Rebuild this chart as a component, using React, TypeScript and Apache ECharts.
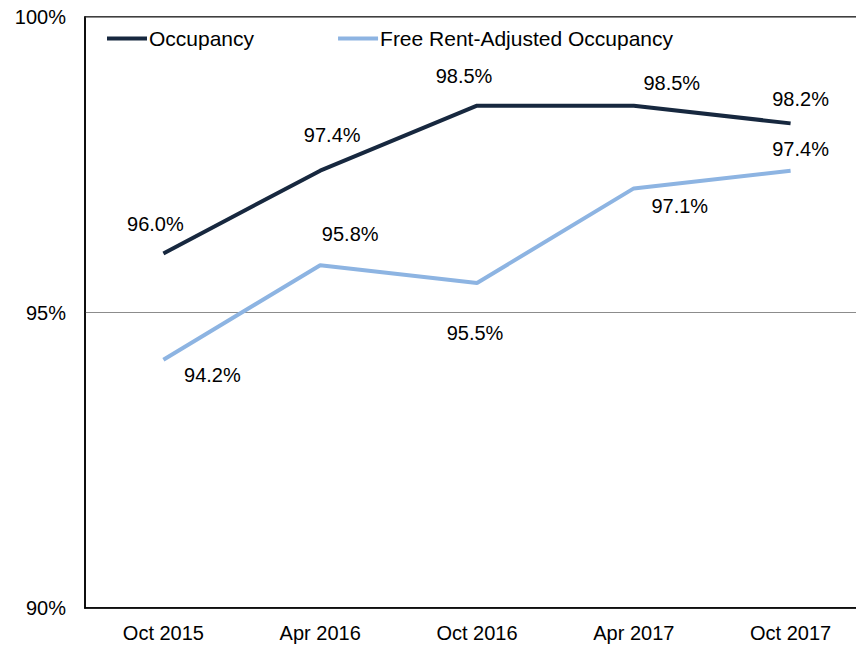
import React, { useEffect, useRef } from "react";
import * as echarts from "echarts";

const categories = ["Oct 2015", "Apr 2016", "Oct 2016", "Apr 2017", "Oct 2017"];
const occupancy = [96.0, 97.4, 98.5, 98.5, 98.2];
const freeRentAdjusted = [94.2, 95.8, 95.5, 97.1, 97.4];
const occupancyLabelOffsets = [[-8, -29], [12, -36], [-13, -30], [38, -23], [10, -24]];
const freeLabelOffsets = [[49, 15], [30, -31], [-2, 50], [46, 18], [10, -22]];

const FONT = "'Liberation Sans', Arial, sans-serif";

export default function App() {
  const ref = useRef<HTMLDivElement>(null);
  useEffect(() => {
    if (!ref.current) return;
    const chart = echarts.init(ref.current, undefined, { renderer: "svg" });
    const mk = (vals: number[], offs: number[][]) =>
      vals.map((v, i) => ({
        value: v,
        label: { offset: offs[i] },
      }));
    const labelBase = {
      show: true,
      position: "inside",
      align: "center",
      verticalAlign: "middle",
      color: "#000",
      fontSize: 20,
      fontFamily: FONT,
      formatter: (p: any) => p.value.toFixed(1) + "%",
    };
    chart.setOption({
      animation: false,
      backgroundColor: "#fff",
      textStyle: { fontFamily: FONT },
      grid: { left: 85, top: 17, bottom: 38, right: 11, show: true, borderColor: "#000", borderWidth: 1.5 },
      legend: {
        left: 102,
        top: 23,
        itemWidth: 40,
        itemHeight: 4,
        itemGap: 84,
        icon: "rect",
        textStyle: { fontSize: 21, color: "#000", fontFamily: FONT, padding: [0, 0, 0, -3] },
        data: ["Occupancy", "Free Rent-Adjusted Occupancy"],
      },
      xAxis: {
        type: "category",
        data: categories,
        boundaryGap: true,
        axisLine: { lineStyle: { color: "#000", width: 1.5 } },
        axisTick: { show: false },
        axisLabel: { color: "#000", fontSize: 20, margin: 15, fontFamily: FONT },
      },
      yAxis: {
        type: "value",
        min: 90,
        max: 100,
        interval: 5,
        axisLine: { show: true, lineStyle: { color: "#000", width: 1.5 } },
        axisTick: { show: false },
        axisLabel: { color: "#000", fontSize: 20, margin: 19, formatter: "{value}%", fontFamily: FONT },
        splitLine: { show: true, lineStyle: { color: "#8c8c8c", width: 1 } },
      },
      series: [
        {
          name: "Occupancy",
          type: "line",
          data: mk(occupancy, occupancyLabelOffsets),
          symbol: "circle",
          symbolSize: 0.1,
          showSymbol: true,
          color: "#17283F",
          lineStyle: { width: 4, color: "#17283F" },
          label: labelBase,
        },
        {
          name: "Free Rent-Adjusted Occupancy",
          type: "line",
          data: mk(freeRentAdjusted, freeLabelOffsets),
          symbol: "circle",
          symbolSize: 0.1,
          showSymbol: true,
          color: "#8DB4E2",
          lineStyle: { width: 4, color: "#8DB4E2" },
          label: labelBase,
        },
      ],
    });
    return () => chart.dispose();
  }, []);
  return (
    <div
      style={{ position: "absolute", left: 0, top: 0, width: 856, height: 646, overflow: "hidden", background: "#fff" }}
    >
      <div ref={ref} style={{ width: 880, height: 646 }} />
    </div>
  );
}
